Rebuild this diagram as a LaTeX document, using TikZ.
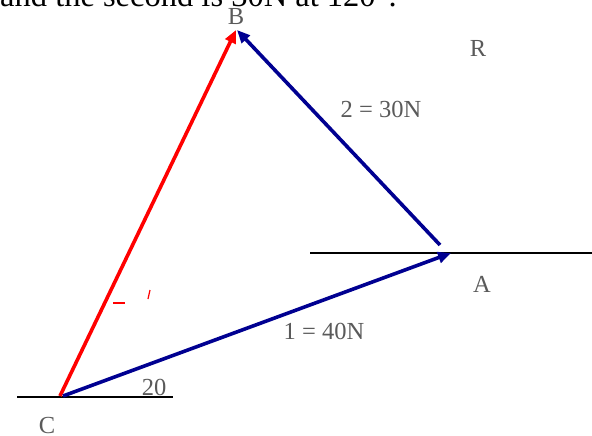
\documentclass[tikz,border=0pt]{standalone}
\usepackage{fontspec}
\setmainfont{Liberation Serif}
\usetikzlibrary{arrows.meta}
\definecolor{navy}{RGB}{0,0,145}
\definecolor{lbl}{RGB}{90,90,90}
\tikzset{
  vec/.style={line width=3.6pt,-{Triangle[length=13pt,width=11pt]}},
  base/.style={line width=1.6pt,black},
  lab/.style={text=lbl,font=\fontsize{24.5}{24.5}\selectfont,inner sep=0pt},
}
\begin{document}
\begin{tikzpicture}[x=1pt,y=-1pt]
\useasboundingbox (0,0) rectangle (592,436);
\begin{scope}
\clip (0,0) rectangle (592,436);
\node[anchor=base west,inner sep=0pt,font=\fontsize{32.5}{32.5}\selectfont] (title) at (0,7) {and the second is 30N at 120°.};
\end{scope}
\coordinate (C) at (61,396);
\coordinate (A) at (451,253);
\coordinate (As) at (440,245);
\coordinate (B) at (236,30);
\coordinate (cl) at (17,397);
\coordinate (cr) at (173,397);
\coordinate (al) at (310,253);
\coordinate (ar) at (592,253);
\draw[base] (cl) -- (cr);
\draw[base] (al) -- (ar);
\draw[vec,red] ([xshift=-1pt]C) -- (B);
\draw[vec,navy] ([xshift=2pt]C) -- (A);
\draw[vec,navy] (As) -- ([xshift=1pt]B);
\node[lab] (lB) at (236,17) {B};
\node[lab] (lR) at (478,48) {R};
\node[lab] (l2) at (381,109) {2 = 30N};
\node[lab] (lA) at (482,284) {A};
\node[lab] (l1) at (324,331) {1 = 40N};
\node[lab] (l20) at (154,387) {20};
\node[lab] (lC) at (47,426) {C};
\draw[red,line width=1.2pt] (113,303) -- (125,303);
\draw[red,line width=1.2pt] (150,290) -- (148,299);
\end{tikzpicture}
\end{document}
